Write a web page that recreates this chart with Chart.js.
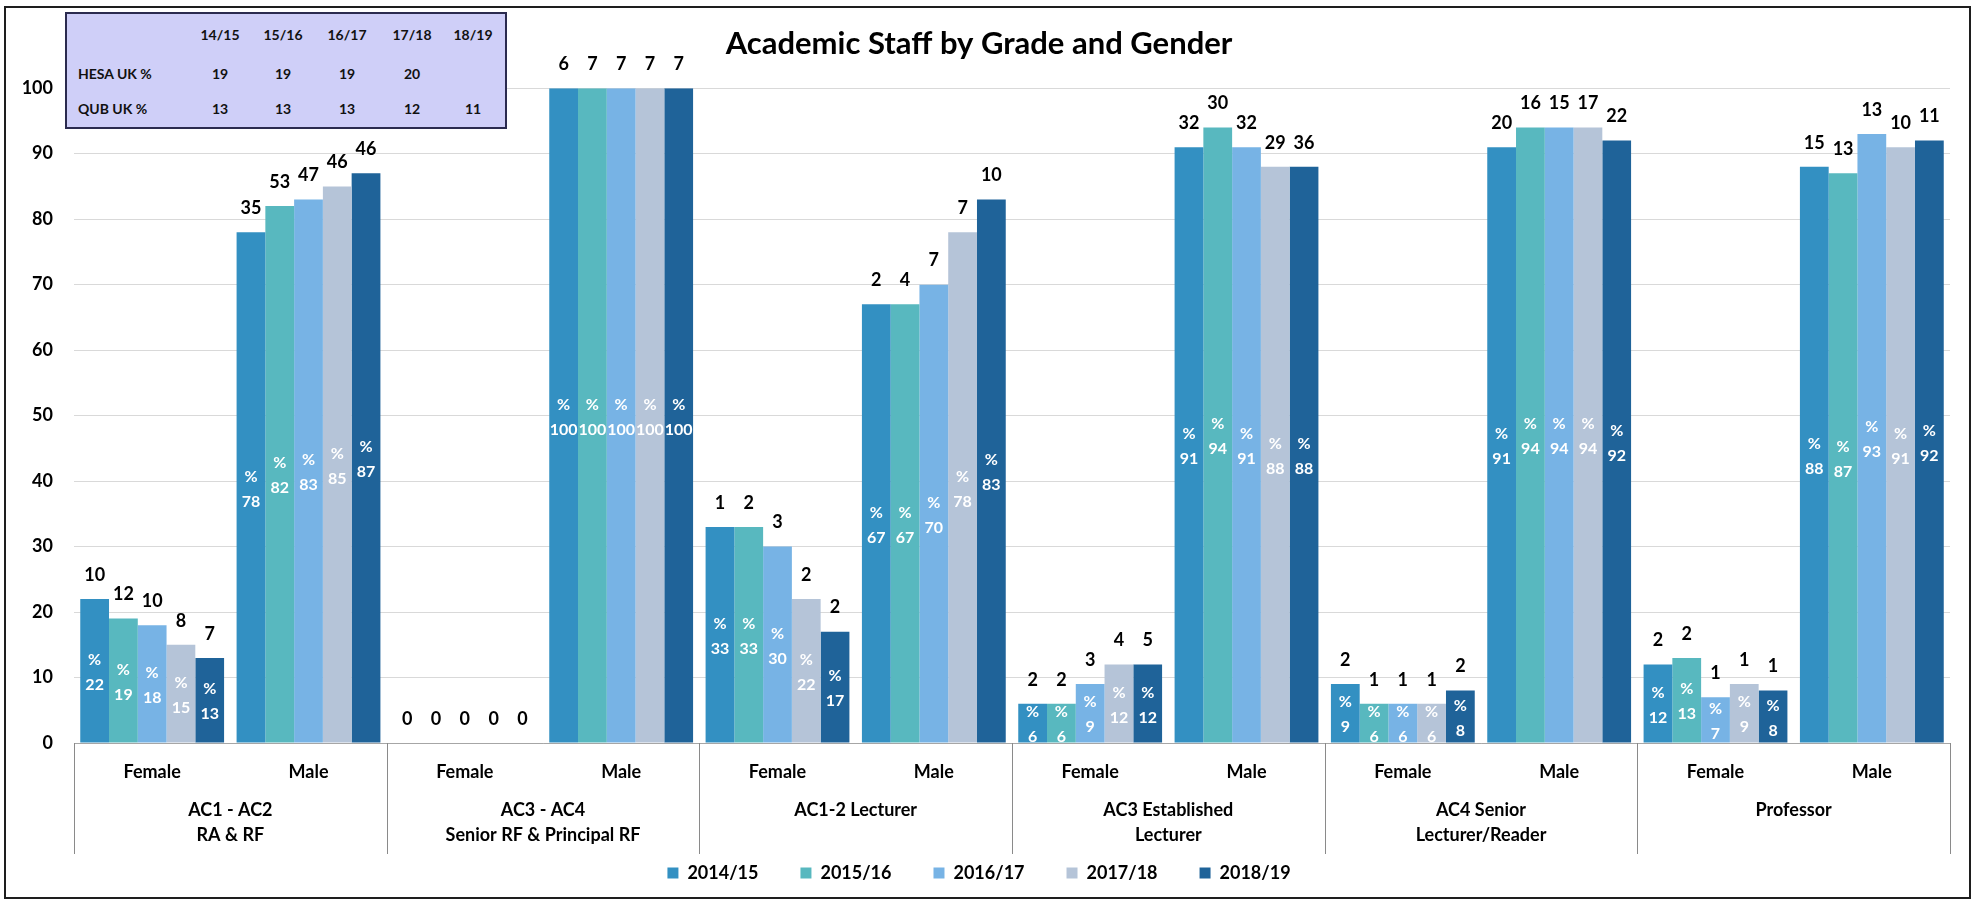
<!DOCTYPE html>
<html>
<head>
<meta charset="utf-8">
<script src="https://cdn.jsdelivr.net/npm/chart.js@4.4.0/dist/chart.umd.min.js"></script>
<style>
  html, body { margin: 0; padding: 0; background: #fff; }
  #wrap { position: relative; width: 1975px; height: 904px; background: #fff; }
  #frame { position: absolute; left: 4px; top: 6px; width: 1967px; height: 893px; border: 2px solid #1e1e1e; box-sizing: border-box; }
  #chart { position: absolute; left: 0; top: 0; }
  #ukTable { position: absolute; left: 65px; top: 12px; width: 442px; height: 117px; background: #cfcff8; border: 2px solid #2b2b4f; box-sizing: border-box; font: bold 14px Lato, sans-serif; color: #111; }
  #ukTable span { position: absolute; transform: translate(-50%, -50%); white-space: nowrap; }
  #ukTable span.rowHead { transform: translate(0, -50%); }
</style>
</head>
<body>
<div id="wrap">
  <canvas id="chart" width="1975" height="904"></canvas>
  <div id="frame"></div>
  <div id="ukTable"></div>
</div>
<script>
// categories
const genders = ['Female', 'Male', 'Female', 'Male', 'Female', 'Male', 'Female', 'Male', 'Female', 'Male', 'Female', 'Male'];
const grades = [
  ['AC1 - AC2', 'RA & RF'],
  ['AC3 - AC4', 'Senior RF & Principal RF'],
  ['AC1-2 Lecturer'],
  ['AC3 Established', 'Lecturer'],
  ['AC4 Senior', 'Lecturer/Reader'],
  ['Professor']
];
const years = ['2014/15', '2015/16', '2016/17', '2017/18', '2018/19'];

// % of staff (bar heights)
const pct1415 = [22, 78, 0, 100, 33, 67, 6, 91, 9, 91, 12, 88];
const pct1516 = [19, 82, 0, 100, 33, 67, 6, 94, 6, 94, 13, 87];
const pct1617 = [18, 83, 0, 100, 30, 70, 9, 91, 6, 94, 7, 93];
const pct1718 = [15, 85, 0, 100, 22, 78, 12, 88, 6, 94, 9, 91];
const pct1819 = [13, 87, 0, 100, 17, 83, 12, 88, 8, 92, 8, 92];

// head counts (labels above bars)
const cnt1415 = [10, 35, 0, 6, 1, 2, 2, 32, 2, 20, 2, 15];
const cnt1516 = [12, 53, 0, 7, 2, 4, 2, 30, 1, 16, 2, 13];
const cnt1617 = [10, 47, 0, 7, 3, 7, 3, 32, 1, 15, 1, 13];
const cnt1718 = [8, 46, 0, 7, 2, 7, 4, 29, 1, 17, 1, 10];
const cnt1819 = [7, 46, 0, 7, 2, 10, 5, 36, 2, 22, 1, 11];

// inset table
const tableYears = ['14/15', '15/16', '16/17', '17/18', '18/19'];
const hesaUk = [19, 19, 19, 20, null];
const qubUk = [13, 13, 13, 12, 11];

const colors = ['#3390c2', '#58b8bf', '#77b3e5', '#b5c4d8', '#1f6399'];
const pctSeries = [pct1415, pct1516, pct1617, pct1718, pct1819];
const cntSeries = [cnt1415, cnt1516, cnt1617, cnt1718, cnt1819];

const FONT = 'Lato, sans-serif';

// table
const tbl = document.getElementById('ukTable');
const colX = [153, 216, 280, 345, 406];
const rowY = [20, 59, 94];
function cell(text, x, y, cls) {
  const s = document.createElement('span');
  s.textContent = text;
  s.style.left = x + 'px';
  s.style.top = y + 'px';
  if (cls) s.className = cls;
  tbl.appendChild(s);
}
tableYears.forEach((t, i) => cell(t, colX[i], rowY[0]));
cell('HESA UK %', 11, rowY[1], 'rowHead');
cell('QUB UK %', 11, rowY[2], 'rowHead');
hesaUk.forEach((v, i) => { if (v !== null) cell(String(v), colX[i], rowY[1]); });
qubUk.forEach((v, i) => { if (v !== null) cell(String(v), colX[i], rowY[2]); });

// labels on the bars: count above, "%" + value inside
const barLabels = {
  id: 'barLabels',
  afterDatasetsDraw(chart) {
    const ctx = chart.ctx;
    ctx.save();
    ctx.textAlign = 'center';
    ctx.textBaseline = 'middle';
    chart.data.datasets.forEach((ds, i) => {
      const meta = chart.getDatasetMeta(i);
      meta.data.forEach((bar, j) => {
        ctx.fillStyle = '#000';
        ctx.font = 'bold 18px ' + FONT;
        ctx.fillText(String(ds.counts[j]), bar.x, bar.y - 24);
        if (ds.data[j] > 0) {
          const mid = (bar.y + bar.base) / 2;
          ctx.fillStyle = '#fff';
          ctx.font = 'bold 16px ' + FONT;
          ctx.fillText('%', bar.x, mid - 11);
          ctx.fillText(String(ds.data[j]), bar.x, mid + 14);
        }
      });
    });
    ctx.restore();
  }
};

// grade groups under the gender labels: separators + two-line names
const gradeAxis = {
  id: 'gradeAxis',
  afterDraw(chart) {
    const x = chart.scales.x;
    const ctx = chart.ctx;
    const step = x.getPixelForValue(1) - x.getPixelForValue(0);
    ctx.save();
    ctx.strokeStyle = '#8a8a8a';
    ctx.lineWidth = 1;
    for (let g = 0; g <= grades.length; g++) {
      const px = Math.round(x.getPixelForValue(g * 2) - step / 2) + 0.5;
      ctx.beginPath();
      ctx.moveTo(px, x.top);
      ctx.lineTo(px, x.top + 111);
      ctx.stroke();
    }
    ctx.fillStyle = '#000';
    ctx.font = 'bold 18px ' + FONT;
    ctx.textAlign = 'center';
    ctx.textBaseline = 'middle';
    grades.forEach((lines, g) => {
      const cx = (x.getPixelForValue(g * 2) + x.getPixelForValue(g * 2 + 1)) / 2;
      lines.forEach((t, k) => ctx.fillText(t, cx, x.top + 67 + k * 25));
    });
    ctx.restore();
  }
};

new Chart(document.getElementById('chart').getContext('2d'), {
  type: 'bar',
  data: {
    labels: genders,
    datasets: years.map((y, i) => ({
      label: y,
      data: pctSeries[i],
      counts: cntSeries[i],
      backgroundColor: colors[i],
      borderWidth: 0,
      categoryPercentage: 0.92,
      barPercentage: 1.0
    }))
  },
  options: {
    responsive: false,
    animation: false,
    layout: { padding: { left: 8, right: 25, top: 10, bottom: 12 } },
    plugins: {
      title: {
        display: true,
        text: 'Academic Staff by Grade and Gender',
        color: '#000',
        font: { family: FONT, size: 31, weight: 'bold' },
        padding: { top: 15, bottom: 26 }
      },
      legend: {
        position: 'bottom',
        labels: {
          color: '#000',
          font: { family: FONT, size: 18, weight: 'bold' },
          boxWidth: 11,
          boxHeight: 11,
          padding: 42
        }
      },
      tooltip: { enabled: false }
    },
    scales: {
      y: {
        min: 0,
        max: 100,
        ticks: { stepSize: 10, color: '#000', font: { family: FONT, size: 18, weight: 'bold' }, padding: 21 },
        grid: { color: '#d9d9d9', drawTicks: false },
        border: { display: false },
        afterFit: s => { s.width = 66; }
      },
      x: {
        ticks: { color: '#000', font: { family: FONT, size: 18, weight: 'bold' }, padding: 10 },
        grid: { display: false },
        border: { display: true, color: '#a6a6a6' },
        afterFit: s => { s.height = 79; }
      }
    }
  },
  plugins: [barLabels, gradeAxis]
});
</script>
</body>
</html>
